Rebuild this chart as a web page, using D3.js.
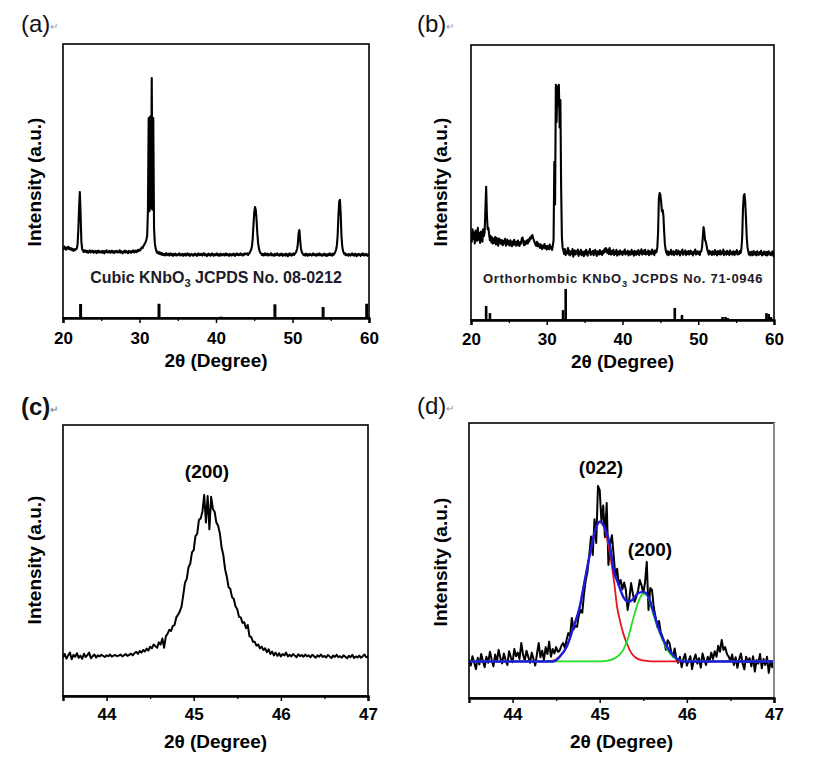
<!DOCTYPE html>
<html><head><meta charset="utf-8">
<script src="https://cdn.jsdelivr.net/npm/d3@7"></script>
<style>body{margin:0;background:#fff}svg{display:block}</style>
</head><body>
<svg id="chart" width="815" height="763"></svg>
<script>
// ---------- DATA ----------
// (a) Cubic KNbO3 pattern: 2theta from 20.0 to 60.0, step 0.1
const aStart = 20, aStep = 0.1;
const intensityA = [
258,252,261,255,249,257,253,260,251,256,
250,254,247,252,245,251,248,253,253,268,
320,400,460,380,280,252,246,241,247,242,
246,240,245,238,243,247,239,244,241,246,
238,243,240,245,237,242,246,239,244,240,
243,238,245,241,236,244,240,247,239,243,
240,245,238,242,246,239,243,237,244,241,
245,239,243,240,247,238,244,241,236,243,
240,246,239,244,241,237,245,240,243,238,
244,241,247,239,243,246,240,245,249,244,
250,247,253,258,255,262,266,272,278,285,
300,390,730,390,735,400,876,395,730,330,
275,255,245,238,242,235,240,233,238,231,
236,230,234,228,233,237,229,232,235,228,
232,236,229,233,227,234,230,235,228,232,
229,233,236,228,232,230,234,227,233,229,
235,228,232,236,229,233,227,231,234,230,
228,233,229,235,231,227,232,236,229,233,
230,234,228,232,237,229,233,230,226,232,
235,229,233,228,232,236,230,227,233,229,
232,236,229,233,227,231,235,228,232,230,
234,228,232,236,229,233,230,227,234,231,
228,233,229,235,231,227,232,236,230,233,
229,232,236,230,233,228,234,231,236,233,
233,236,230,235,238,244,250,262,290,340,
385,405,395,360,310,275,255,245,238,235,
230,234,228,233,236,229,232,235,228,233,
229,233,236,228,232,230,227,234,229,233,
236,229,232,228,234,230,235,227,232,229,
233,228,235,230,226,232,236,229,233,228,
232,236,230,234,238,243,252,270,310,321,
285,255,242,236,232,229,233,228,235,230,
227,233,229,234,231,228,232,236,229,233,
230,227,234,229,232,236,228,233,230,227,
233,229,235,231,227,232,228,234,230,236,
229,233,228,235,231,236,242,250,265,300,
370,425,431,380,300,262,245,238,232,236,
229,233,230,227,234,231,228,233,236,229,
232,228,235,230,226,233,229,234,231,227,
233,230,236,228,232,229,234,230,227,233,
230];
const refPosA = [22.3, 32.55, 40.65, 47.7, 54.0, 59.7];
const refIntA = [51, 52, 5, 50, 40, 52];

// (b) Orthorhombic KNbO3 pattern: 20.0 to 60.0, step 0.1
const bStart = 20, bStep = 0.1;
const intensityB = [
310,285,330,295,318,278,325,300,288,335,
292,315,280,322,298,285,330,305,320,400,
484,380,330,335,310,290,305,282,300,278,
295,280,302,275,298,284,270,296,281,292,
276,290,272,288,279,295,270,284,292,275,
286,271,290,278,268,285,274,292,279,270,
284,272,289,276,269,283,278,295,300,285,
272,286,275,283,290,278,293,286,300,296,
305,309,298,290,282,276,270,284,268,279,
272,262,275,266,258,271,263,276,260,268,
256,270,262,258,274,260,266,255,270,290,
575,420,855,720,850,780,855,700,800,480,
300,262,252,240,258,236,250,244,262,238,
252,235,248,241,258,230,246,253,238,250,
242,256,233,248,240,255,236,249,244,232,
250,238,255,242,234,249,245,258,237,246,
240,252,236,247,255,241,233,250,244,238,
254,240,248,236,251,243,257,248,262,250,
244,256,240,262,246,238,252,241,255,236,
248,240,255,234,250,244,238,253,241,247,
236,250,243,256,238,247,241,252,235,249,
244,238,255,241,248,234,252,243,237,250,
240,254,236,249,243,257,238,246,252,240,
255,238,247,241,253,236,250,244,239,256,
242,250,236,253,245,248,265,320,440,462,
455,430,395,400,380,320,275,255,244,238,
250,236,247,241,255,238,244,250,236,248,
241,254,238,246,252,240,235,249,243,256,
237,248,242,253,236,247,240,251,238,245,
252,240,246,235,249,243,256,238,245,250,
240,248,236,250,250,265,300,338,320,290,
285,270,255,246,238,252,241,247,236,250,
243,238,254,240,248,235,251,244,239,253,
238,247,242,256,236,249,243,238,252,240,
248,236,253,241,245,238,250,243,236,249,
242,254,238,246,240,251,244,260,300,400,
450,458,430,370,300,265,250,238,246,235,
248,240,236,251,243,238,247,235,250,242,
237,246,240,252,235,244,238,249,241,236,
248,235,243,250,238,245,236,242,250,233,
244];
const refPosB = [22.0, 22.5, 32.15, 32.5, 46.9, 47.85, 53.2, 53.6, 53.9, 59.0, 59.3, 59.6];
const refIntB = [51, 25, 36, 113, 44, 18, 11, 11, 7, 25, 22, 11];

// (c) (200) peak, 43.50 to 47.00 step 0.02
const cStart = 43.5, cStep = 0.02;
const intensityC = [
142,155,138,150,160,136,152,145,158,141,
149,137,156,144,151,160,139,147,153,142,
150,146,152,148,144,150,147,153,145,149,
151,147,149,153,146,150,155,148,152,156,
150,158,163,155,166,160,170,164,175,168,
182,176,190,184,178,198,190,212,178,220,
230,244,240,258,262,290,300,312,330,372,
418,432,475,488,530,538,590,598,650,655,
680,742,640,738,615,735,690,680,640,628,
600,548,520,468,440,402,395,365,358,330,
320,292,290,270,272,250,262,220,218,200,
200,186,190,176,182,170,176,162,172,155,
164,150,160,148,158,146,155,150,160,146,
152,146,155,149,143,154,147,151,145,153,
146,150,143,152,147,141,150,145,153,144,
148,142,151,146,140,149,144,152,143,147,
141,150,145,139,148,143,152,140,146,142,
149,141,147,153,143,145];

// (d) (022)+(200) peaks, 43.50 to 47.00 step 0.02
const dStart = 43.5, dStep = 0.02;
const intensityD = [
140,118,152,128,105,146,122,160,134,112,
150,128,168,140,115,158,132,175,145,126,
162,138,120,170,148,130,178,152,165,142,
200,158,136,172,150,128,165,142,118,160,
200,148,172,138,185,160,205,150,178,162,
185,168,172,190,200,182,212,236,226,291,
250,262,259,300,320,310,380,429,460,520,
587,520,650,564,771,756,640,700,585,709,
484,560,592,520,441,470,410,429,395,420,
393,320,360,418,380,350,368,390,429,410,
380,420,495,320,400,393,330,296,259,280,
240,223,205,175,210,200,168,150,180,140,
128,150,112,142,160,118,135,152,105,140,
158,125,145,110,162,138,120,150,132,165,
142,170,150,190,168,211,175,185,160,150,
135,158,120,148,110,140,162,125,104,150,
130,145,115,152,96,138,125,160,108,142,
120,150,91,135,112,140];
// fitted curves
const fit022X = [43.5,44.3,44.45,44.54,44.62,44.70,44.77,44.83,44.89,44.95,45.00,45.06,45.10,45.14,45.17,45.20,45.23,45.27,45.31,45.36,45.42,45.50,45.60,47.0];
const fit022Y = [133,133,135,150,186,259,330,430,527,611,641,612,555,480,410,330,284,235,200,165,145,137,133,133];
const fit200X = [43.5,45.00,45.12,45.20,45.27,45.33,45.39,45.45,45.50,45.55,45.61,45.69,45.80,45.90,46.00,47.0];
const fit200Y = [133,133,138,150,175,223,295,355,381,370,309,236,164,140,134,133];
const fitSumX = [43.5,44.47,44.54,44.62,44.70,44.77,44.83,44.89,44.95,45.00,45.06,45.12,45.16,45.21,45.27,45.33,45.39,45.44,45.50,45.56,45.61,45.67,45.73,45.81,45.88,45.96,47.0];
const fitSumY = [133,133,150,186,259,330,430,527,611,641,618,550,465,418,368,350,362,381,386,368,320,259,211,168,144,133,133];

const ticksWide = [20,30,40,50,60], minorWide = [25,35,45,55];
const ticksNarrow = [44,45,46,47], minorNarrow = [44.5,45.5,46.5];

// ---------- DRAW ----------
const svg = d3.select('#chart');
const FONT = "'Liberation Sans', Arial, Helvetica, sans-serif";
const toPts = (start, step, arr) => arr.map((v, i) => [start + i * step, v]);
const zip = (xs, ys) => xs.map((v, i) => [v, ys[i]]);

function drawPanel(p) {
  const g = svg.append('g');
  const x = d3.scaleLinear().domain(p.xd).range([p.l, p.r]);
  const y = d3.scaleLinear().domain([0, 1000]).range([p.b, p.t]);
  const cid = 'clip-' + p.id;
  svg.append('clipPath').attr('id', cid).append('rect')
    .attr('x', p.l).attr('y', p.t).attr('width', p.r - p.l).attr('height', p.b - p.t);
  const plot = g.append('g').attr('clip-path', `url(#${cid})`);
  const line = d3.line().x(d => x(d[0])).y(d => y(d[1]));
  plot.append('path').datum(p.data).attr('d', line)
    .attr('fill', 'none').attr('stroke', '#000').attr('stroke-width', p.sw || 2.1)
    .attr('stroke-linejoin', 'round');
  if (p.fits) {
    const sl = d3.line().x(d => x(d[0])).y(d => y(d[1])).curve(d3.curveMonotoneX);
    p.fits.forEach(f => plot.append('path').datum(f.pts).attr('d', sl)
      .attr('fill', 'none').attr('stroke', f.color).attr('stroke-width', f.w));
  }
  if (p.refPos) {
    plot.selectAll('rect.ref').data(p.refPos).join('rect').attr('class', 'ref')
      .attr('x', d => x(d) - p.refW / 2).attr('width', p.refW)
      .attr('y', (d, i) => y(p.refInt[i])).attr('height', (d, i) => y(0) - y(p.refInt[i]))
      .attr('fill', '#000');
  }
  // frame
  g.append('rect').attr('x', p.l).attr('y', p.t).attr('width', p.r - p.l).attr('height', p.b - p.t)
    .attr('fill', 'none').attr('stroke', '#000').attr('stroke-width', 1.6);
  if (p.grayRight) g.append('line').attr('x1', p.r).attr('x2', p.r).attr('y1', p.t).attr('y2', p.b)
    .attr('stroke', '#8a8a8a').attr('stroke-width', 2);
  // axes
  const ax = g.append('g').attr('transform', `translate(0,${p.b})`)
    .call(d3.axisBottom(x).tickValues(p.major).tickSize(5).tickPadding(p.pad).tickFormat(d3.format('d')));
  ax.select('.domain').attr('stroke-width', 2.4);
  ax.selectAll('.tick line').attr('stroke-width', 1.5);
  ax.selectAll('text').attr('font-family', FONT).attr('font-weight', 'bold').attr('font-size', 17).attr('fill', '#000');
  const mn = g.append('g').attr('transform', `translate(0,${p.b})`)
    .call(d3.axisBottom(x).tickValues(p.minor).tickSize(3).tickFormat(''));
  mn.select('.domain').remove();
  mn.selectAll('.tick line').attr('stroke-width', 1.3);
  // titles
  g.append('text').attr('x', (p.l + p.r) / 2).attr('y', p.xtY).attr('text-anchor', 'middle')
    .attr('font-family', FONT).attr('font-weight', 'bold').attr('font-size', 19).text('2θ (Degree)');
  g.append('text').attr('transform', `translate(${p.ytX},${p.ytY}) rotate(-90)`).attr('text-anchor', 'middle')
    .attr('font-family', FONT).attr('font-weight', 'bold').attr('font-size', 19).text('Intensity (a.u.)');
  // panel label
  const pl = g.append('text').attr('x', p.lx).attr('y', p.ly).attr('font-family', FONT)
    .attr('font-size', 24).attr('font-weight', p.lbold ? 'bold' : 'normal').attr('fill', '#111');
  pl.append('tspan').text(`(${p.id})`);
  pl.append('tspan').attr('font-size', 10).attr('fill', '#999').attr('dy', -2).text('↵');
  // annotations
  (p.notes || []).forEach(n => {
    const t = g.append('text').attr('x', n.x).attr('y', n.y).attr('text-anchor', 'middle')
      .attr('font-family', FONT).attr('font-weight', 'bold').attr('font-size', n.size)
      .attr('fill', n.color || '#000').attr('letter-spacing', n.ls || 0);
    if (n.sub) {
      t.append('tspan').text(n.parts[0]);
      t.append('tspan').attr('dy', 4).attr('font-size', n.size * 0.7).text(n.parts[1]);
      t.append('tspan').attr('dy', -4).text(n.parts[2]);
    } else t.text(n.text);
  });
}

drawPanel({id: 'a', l: 63, r: 369, t: 44, b: 318, xd: [20, 60], major: ticksWide, minor: minorWide, pad: 9,
  data: toPts(aStart, aStep, intensityA), refPos: refPosA, refInt: refIntA, refW: 3,
  xtY: 367, ytX: 41, ytY: 182, lx: 21, ly: 32,
  notes: [{x: 216, y: 283, size: 16, sub: true, color: '#1b1b2b', parts: ['Cubic KNbO', '3', ' JCPDS No. 08-0212']}]});

drawPanel({id: 'b', l: 471, r: 774, t: 45, b: 320, xd: [20, 60], major: ticksWide, minor: minorWide, pad: 8,
  data: toPts(bStart, bStep, intensityB), refPos: refPosB, refInt: refIntB, refW: 2.6,
  xtY: 368, ytX: 447, ytY: 182, lx: 417, ly: 32,
  notes: [{x: 623, y: 283, size: 13, ls: 0.7, sub: true, color: '#1b1b2b', parts: ['Orthorhombic KNbO', '3', ' JCPDS No. 71-0946']}]});

drawPanel({id: 'c', l: 63, r: 368, t: 425, b: 696, xd: [43.5, 47], major: ticksNarrow, minor: minorNarrow, pad: 7,
  data: toPts(cStart, cStep, intensityC), sw: 2.0,
  xtY: 748, ytX: 41, ytY: 560, lx: 21, ly: 415, lbold: true,
  notes: [{x: 207, y: 478, size: 19, text: '(200)'}]});

drawPanel({id: 'd', l: 469, r: 774, t: 423, b: 698, xd: [43.5, 47], major: ticksNarrow, minor: minorNarrow, pad: 5,
  data: toPts(dStart, dStep, intensityD), sw: 2.0, grayRight: true,
  fits: [{pts: zip(fit022X, fit022Y), color: '#e8141c', w: 1.8},
         {pts: zip(fit200X, fit200Y), color: '#22dd22', w: 1.8},
         {pts: zip(fitSumX, fitSumY), color: '#1a1ae0', w: 2.4}],
  xtY: 748, ytX: 447, ytY: 562, lx: 417, ly: 414,
  notes: [{x: 601, y: 474, size: 19, text: '(022)'}, {x: 650, y: 556, size: 19, text: '(200)'}]});
</script>
</body></html>
